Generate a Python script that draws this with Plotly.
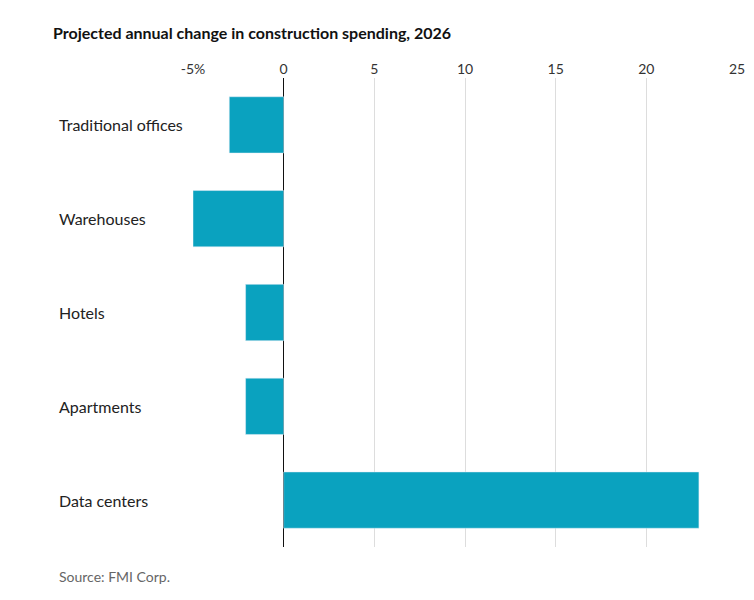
import plotly.graph_objects as go

categories = ["Traditional offices", "Warehouses", "Hotels", "Apartments", "Data centers"]
values = [-3.0, -5.0, -2.1, -2.1, 22.9]
tick_vals = [-5, 0, 5, 10, 15, 20, 25]
tick_text = ["-5%", "0", "5", "10", "15", "20", "25"]

fig = go.Figure(go.Bar(
    x=values, y=categories, orientation="h",
    marker_color="#0aa2bf", width=0.6,
))

for c in categories:
    fig.add_annotation(x=-0.25, xref="paper", y=c, yref="y", text=c, showarrow=False,
                       xanchor="left", font=dict(size=16, color="#222"))

fig.add_annotation(x=-0.25, xref="paper", y=-0.04, yref="paper", text="Source: FMI Corp.",
                   showarrow=False, xanchor="left", yanchor="top",
                   font=dict(size=14, color="#666"))

fig.update_layout(
    width=746, height=592,
    margin=dict(l=185, r=9, t=70, b=53),
    plot_bgcolor="white", paper_bgcolor="white",
    font=dict(family="Lato, Noto Sans, sans-serif", color="#333"),
    title=dict(text="<b>Projected annual change in construction spending, 2026</b>",
               x=45 / 746, xanchor="left", y=1 - 25 / 592, yanchor="middle",
               font=dict(size=16, color="#111")),
    showlegend=False,
    xaxis=dict(range=[-5, 25], side="top", tickvals=tick_vals, ticktext=tick_text,
               showgrid=True, gridcolor="#dddddd", zeroline=True, zerolinecolor="#111",
               zerolinewidth=1, tickfont=dict(size=14, color="#333"), ticks=""),
    yaxis=dict(autorange="reversed", showticklabels=False, showgrid=False),
)

fig.write_html("out.html")
